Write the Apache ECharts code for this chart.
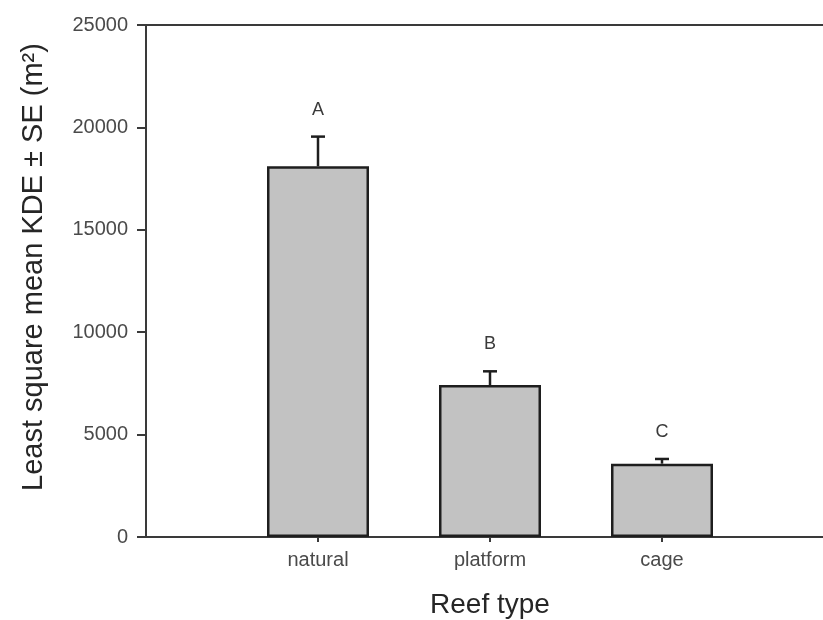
<!DOCTYPE html>
<html>
<head>
<meta charset="utf-8">
<script src="https://cdn.jsdelivr.net/npm/echarts@6/dist/echarts.min.js"></script>
<style>
  html, body { margin: 0; padding: 0; background: #fff; }
  #chart { width: 823px; height: 620px; }
</style>
</head>
<body>
<div id="chart"></div>
<script>
// reef types (empty slots at both ends so the axis runs 0..4 like the original)
var categories = ['', 'natural', 'platform', 'cage', ''];
var means = ['-', 18100, 7420, 3580, '-'];
var se = [0, 1450, 670, 230, 0];
var letters = ['', 'A', 'B', 'C', ''];

var chart = echarts.init(document.getElementById('chart'));

var errData = [];
for (var i = 0; i < categories.length; i++) {
    if (means[i] !== '-') {
        errData.push([i, means[i], means[i] + se[i], letters[i]]);
    }
}

var option = {
    animation: false,
    textStyle: { fontFamily: 'Liberation Sans, Arial, sans-serif' },
    grid: {
        left: 146,
        top: 25,
        right: -11,
        bottom: 83,
        outerBoundsMode: 'none',
        containLabel: false,
        show: true,
        borderColor: '#3a3a3a',
        borderWidth: 2
    },
    xAxis: {
        type: 'category',
        data: categories,
        boundaryGap: false,
        name: 'Reef type',
        nameLocation: 'middle',
        nameGap: 54,
        nameTextStyle: { fontSize: 28, color: '#262626' },
        axisLine: { lineStyle: { color: '#3a3a3a', width: 2 } },
        axisTick: {
            length: 5,
            lineStyle: { color: '#3a3a3a', width: 2 },
            interval: function (idx, val) { return val !== ''; }
        },
        axisLabel: { interval: 0, margin: 13, fontSize: 20, color: '#4a4a4a' },
        splitLine: { show: false }
    },
    yAxis: {
        type: 'value',
        min: 0,
        max: 25000,
        interval: 5000,
        name: 'Least square mean KDE \u00b1 SE (m\u00b2)',
        nameLocation: 'middle',
        nameRotate: 90,
        nameGap: 98,
        nameTextStyle: { fontSize: 29, color: '#262626', padding: [0, 0, 0, 28] },
        axisLine: { show: true, lineStyle: { color: '#3a3a3a', width: 2 } },
        axisTick: { show: true, length: 9, lineStyle: { color: '#3a3a3a', width: 2 } },
        axisLabel: {
            margin: 18, fontSize: 20, color: '#4a4a4a',
            formatter: function (v) { return String(v); }
        },
        splitLine: { show: false }
    },
    series: [
        {
            type: 'bar',
            data: means,
            barWidth: 102,
            itemStyle: {
                color: '#c2c2c2',
                borderColor: '#1e1e1e',
                borderWidth: 2.5
            },
            z: 2
        },
        {
            type: 'custom',
            data: errData,
            z: 3,
            renderItem: function (params, api) {
                var base = api.coord([api.value(0), api.value(1)]);
                var top = api.coord([api.value(0), api.value(2)]);
                var stroke = { stroke: '#1e1e1e', lineWidth: 2.5 };
                return {
                    type: 'group',
                    children: [
                        { type: 'line', shape: { x1: base[0], y1: base[1], x2: top[0], y2: top[1] }, style: stroke },
                        { type: 'line', shape: { x1: top[0] - 7, y1: top[1], x2: top[0] + 7, y2: top[1] }, style: stroke },
                        {
                            type: 'text',
                            x: top[0],
                            y: top[1] - 27,
                            style: {
                                text: api.value(3),
                                fontSize: 18,
                                fontFamily: 'Liberation Sans, Arial, sans-serif',
                                fill: '#3a3a3a',
                                align: 'center',
                                verticalAlign: 'middle'
                            }
                        }
                    ]
                };
            }
        }
    ]
};
chart.setOption(option);
</script>
</body>
</html>
